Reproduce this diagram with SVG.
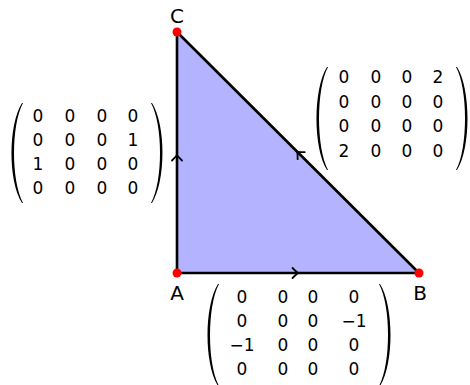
<svg xmlns="http://www.w3.org/2000/svg" width="470" height="385" viewBox="0 0 470 385">
<defs>
<style>
.m{font-family:"DejaVu Sans","Liberation Sans",sans-serif;font-size:17px;text-anchor:middle;fill:#000}
.lbl{font-family:"DejaVu Sans","Liberation Sans",sans-serif;font-size:20px;text-anchor:middle;fill:#000}
.edge{stroke:#000;stroke-width:2.6;fill:none;stroke-linecap:round}
.arr{stroke:#000;stroke-width:1.8;fill:none;stroke-linecap:round;stroke-linejoin:round}
.pt{fill:#ff0000}
.par{fill:#000}
</style>
<path id="chev" class="arr" d="M-4.5,-5 Q-1,-1.5 1,0 Q-1,1.5 -4.5,5"/>
</defs>
<rect width="470" height="385" fill="#fff"/>
<polygon points="177,273 419,273 177,32" fill="#b3b3ff"/>
<g id="connectors">
<line class="edge" x1="177" y1="273" x2="419" y2="273"/>
<line class="edge" x1="177" y1="273" x2="177" y2="32"/>
<line class="edge" x1="419" y1="273" x2="177" y2="32"/>
<use href="#chev" transform="translate(297,273)"/>
<use href="#chev" transform="translate(177,156) rotate(-90)"/>
<use href="#chev" transform="translate(298,152.5) rotate(-135.1)"/>
</g>
<g id="A"><circle class="pt" cx="177" cy="273" r="4.5"/><text class="lbl" x="177" y="300">A</text></g>
<g id="B"><circle class="pt" cx="419" cy="273" r="4.5"/><text class="lbl" x="420" y="300">B</text></g>
<g id="C"><circle class="pt" cx="177" cy="32" r="4.5"/><text class="lbl" x="177" y="23">C</text></g>
<g id="matrix-AC">
<path class="par" d="M22,103 C8,125 8,181 22,203 L23,203 C11,181 11,125 23,103 Z"/>
<path class="par" d="M152,103 C166,125 166,181 152,203 L151,203 C163,181 163,125 151,103 Z"/>
<text class="m" y="122"><tspan x="38">0</tspan><tspan x="70">0</tspan><tspan x="102">0</tspan><tspan x="133">0</tspan></text>
<text class="m" y="146"><tspan x="38">0</tspan><tspan x="70">0</tspan><tspan x="102">0</tspan><tspan x="133">1</tspan></text>
<text class="m" y="170"><tspan x="38">1</tspan><tspan x="70">0</tspan><tspan x="102">0</tspan><tspan x="133">0</tspan></text>
<text class="m" y="194"><tspan x="38">0</tspan><tspan x="70">0</tspan><tspan x="102">0</tspan><tspan x="133">0</tspan></text>
</g>
<g id="matrix-BC">
<path class="par" d="M327,67 C313,89 313,148 327,170 L328,170 C316,148 316,89 328,67 Z"/>
<path class="par" d="M457,67 C471,89 471,148 457,170 L456,170 C468,148 468,89 456,67 Z"/>
<text class="m" y="83"><tspan x="344">0</tspan><tspan x="376">0</tspan><tspan x="407">0</tspan><tspan x="438">2</tspan></text>
<text class="m" y="107.5"><tspan x="344">0</tspan><tspan x="376">0</tspan><tspan x="407">0</tspan><tspan x="438">0</tspan></text>
<text class="m" y="132"><tspan x="344">0</tspan><tspan x="376">0</tspan><tspan x="407">0</tspan><tspan x="438">0</tspan></text>
<text class="m" y="156.5"><tspan x="344">2</tspan><tspan x="376">0</tspan><tspan x="407">0</tspan><tspan x="438">0</tspan></text>
</g>
<g id="matrix-AB">
<path class="par" d="M218,284 C204,306 204,364 218,386 L219,386 C207,364 207,306 219,284 Z"/>
<path class="par" d="M380,284 C394,306 394,364 380,386 L379,386 C391,364 391,306 379,284 Z"/>
<text class="m" y="303"><tspan x="242">0</tspan><tspan x="283">0</tspan><tspan x="313">0</tspan><tspan x="354">0</tspan></text>
<text class="m" y="327"><tspan x="242">0</tspan><tspan x="283">0</tspan><tspan x="313">0</tspan><tspan x="354">−1</tspan></text>
<text class="m" y="351"><tspan x="242">−1</tspan><tspan x="283">0</tspan><tspan x="313">0</tspan><tspan x="354">0</tspan></text>
<text class="m" y="375"><tspan x="242">0</tspan><tspan x="283">0</tspan><tspan x="313">0</tspan><tspan x="354">0</tspan></text>
</g>
</svg>
